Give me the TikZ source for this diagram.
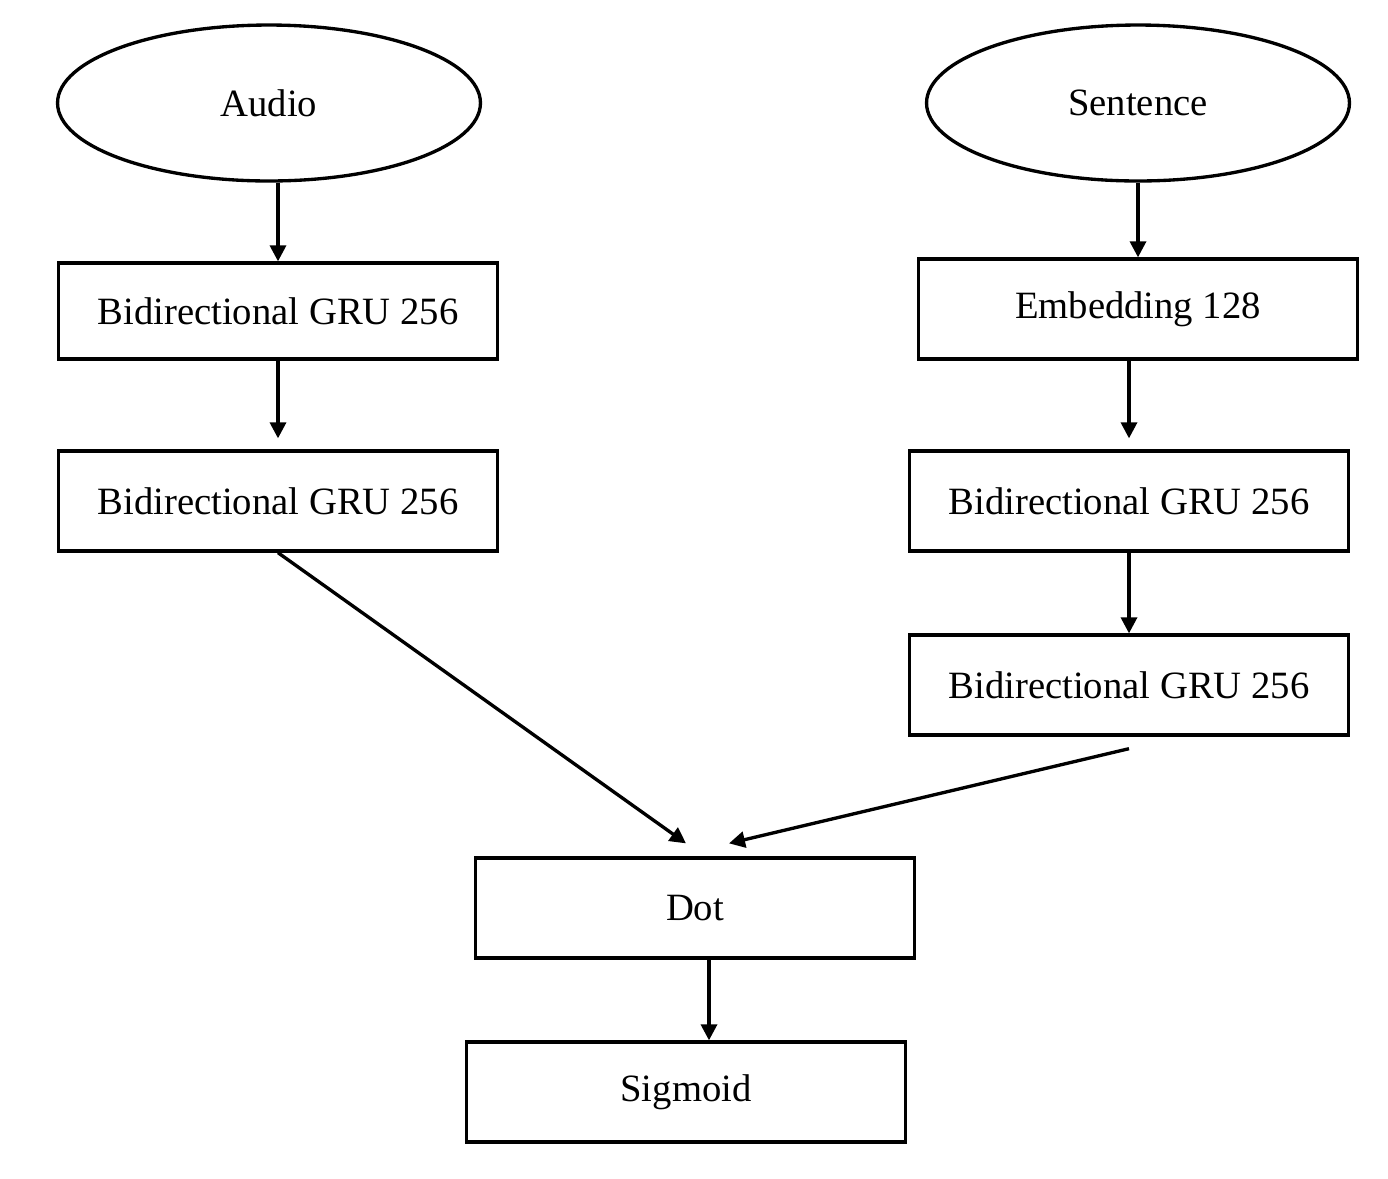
\documentclass[tikz,border=0pt]{standalone}
\usepackage{fontspec}
\setmainfont{Liberation Serif}
\usetikzlibrary{shapes.geometric,arrows.meta}

\tikzset{
  layer/.style={draw, line width=1.9pt, minimum width=8.78cm, minimum height=2.0cm, font=\fontsize{22}{26}\selectfont},
  input/.style={draw, ellipse, line width=1.9pt, minimum width=8.46cm, minimum height=3.12cm, font=\fontsize{22}{26}\selectfont},
  arr/.style={line width=1.9pt, -{Triangle[length=0.32cm,width=0.32cm]}}
}

\begin{document}
\begin{tikzpicture}[x=0.02cm,y=-0.02cm]

\useasboundingbox (0,0) rectangle (1388,1178);

\node[input] (audio) at (269,103) {Audio};
\node[input] (sent) at (1138,103) {Sentence};

\node[layer, minimum height=1.92cm] (l1) at (278,311) {Bidirectional GRU 256};
\node[layer] (l2) at (278,501) {Bidirectional GRU 256};

\node[layer] (r1) at (1138,309) {Embedding 128};
\node[layer] (r2) at (1129,501) {Bidirectional GRU 256};
\node[layer] (r3) at (1129,685) {Bidirectional GRU 256};

\node[layer] (dot) at (695,908) {Dot};
\node[layer] (sig) at (686,1092) {Sigmoid};

\draw[arr] (audio.south -| l1) -- (l1.north);
\draw[arr, shorten >=0.22cm] (l1.south) -- (l2.north);

\draw[arr] (sent.south) -- (r1.north);
\draw[arr, shorten >=0.22cm] (r1.south -| r2) -- (r2.north);
\draw[arr] (r2.south) -- (r3.north);

\draw[arr] (l2.south) -- ([xshift=-0.18cm,yshift=0.26cm]dot.north);
\draw[arr] ([yshift=-0.24cm]r3.south) -- ([xshift=0.68cm,yshift=0.26cm]dot.north);

\draw[arr] ([xshift=0.28cm]dot.south) -- ([xshift=0.28cm]dot.south |- sig.north);

\end{tikzpicture}
\end{document}
